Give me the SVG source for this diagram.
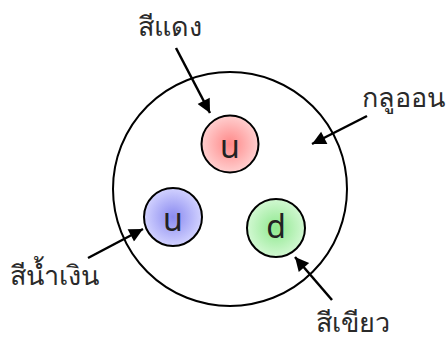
<svg xmlns="http://www.w3.org/2000/svg" width="448" height="341" viewBox="0 0 448 341">
<style>
.lbl{font-family:"Noto Sans","DejaVu Sans",sans-serif;font-size:27px;fill:#2a2a2a}
.q{font-family:"Noto Sans","DejaVu Sans",sans-serif;font-size:32px;fill:#222;text-anchor:middle}
.c{stroke:#000;stroke-width:2}
.arr{stroke:#000;stroke-width:2.5;fill:none;marker-end:url(#ah)}
</style>
<defs>
<marker id="ah" viewBox="0 0 10 10" refX="10" refY="5" markerWidth="6.5" markerHeight="5.5" markerUnits="strokeWidth" orient="auto">
<path d="M0,0 L10,5 L0,10 z" fill="#000"/>
</marker>
<radialGradient id="gr"><stop offset="0" stop-color="#ff8888"/><stop offset="1" stop-color="#ffcfcf"/></radialGradient>
<radialGradient id="gb"><stop offset="0" stop-color="#8a8af0"/><stop offset="1" stop-color="#d2d2ff"/></radialGradient>
<radialGradient id="gg"><stop offset="0" stop-color="#8ee88e"/><stop offset="1" stop-color="#d2f8d2"/></radialGradient>
</defs>
<g id="gluon">
<circle cx="230" cy="189" r="117" fill="#fff" class="c"/>
<text class="lbl" x="362" y="107">กลูออน</text>
</g>
<g id="red">
<circle cx="230" cy="144" r="28.5" fill="url(#gr)" class="c"/>
<text class="q" x="230" y="158">u</text>
<text class="lbl" x="138" y="36">สีแดง</text>
</g>
<g id="blue">
<circle cx="173" cy="217" r="29" fill="url(#gb)" class="c"/>
<text class="q" x="173" y="231">u</text>
<text class="lbl" x="10" y="285">สีน้ำเงิน</text>
</g>
<g id="green">
<circle cx="276" cy="228" r="29" fill="url(#gg)" class="c"/>
<text class="q" x="276" y="238">d</text>
<text class="lbl" x="316" y="332">สีเขียว</text>
</g>
<g id="connectors">
<line class="arr" x1="176" y1="48" x2="210" y2="113"/>
<line class="arr" x1="367" y1="116" x2="312" y2="144"/>
<line class="arr" x1="88" y1="258" x2="143" y2="229"/>
<line class="arr" x1="332" y1="300" x2="295" y2="257"/>
</g>
</svg>
